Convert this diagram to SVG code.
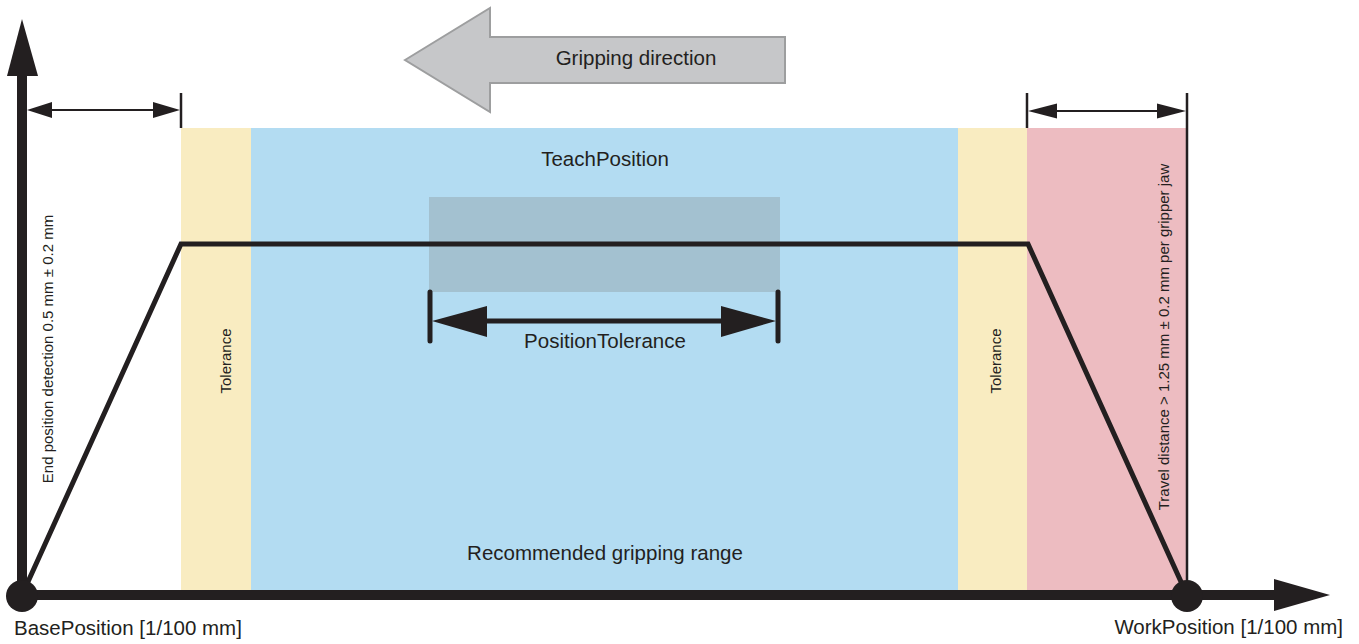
<svg xmlns="http://www.w3.org/2000/svg" width="1359" height="644" viewBox="0 0 1359 644">
  <style>
    .t { font-family: "Liberation Sans", Arial, sans-serif; fill: #231f20; }
    .big { font-size: 20.5px; }
    .small { font-size: 15px; }
    .ink { fill: #231f20; }
    .line { stroke: #231f20; fill: none; }
  </style>
  <rect width="1359" height="644" fill="#ffffff"/>

  <g id="zones">
    <rect id="tolerance-left" x="181" y="128" width="70" height="464" fill="#f9ecc1"/>
    <rect id="recommended-range" x="251" y="128" width="707" height="464" fill="#b3dcf2"/>
    <rect id="tolerance-right" x="958" y="128" width="69" height="464" fill="#f9ecc1"/>
    <rect id="travel-zone" x="1027" y="128" width="160" height="464" fill="#edbcc1"/>
    <rect id="teach-window" x="429" y="197" width="351" height="95" fill="#a3c1d0"/>
  </g>

  <g id="labels">
    <text class="t big" x="605" y="166" text-anchor="middle">TeachPosition</text>
    <text class="t big" x="605" y="560" text-anchor="middle">Recommended gripping range</text>
    <text class="t big" x="605" y="348" text-anchor="middle">PositionTolerance</text>
    <text class="t small" transform="translate(231,361) rotate(-90)" text-anchor="middle">Tolerance</text>
    <text class="t small" transform="translate(1001,361) rotate(-90)" text-anchor="middle">Tolerance</text>
    <text class="t small" transform="translate(53,349) rotate(-90)" text-anchor="middle">End position detection 0.5 mm ± 0.2 mm</text>
    <text class="t small" transform="translate(1169,337) rotate(-90)" text-anchor="middle">Travel distance &gt; 1.25 mm ± 0.2 mm per gripper jaw</text>
    <text class="t big" x="14" y="635">BasePosition [1/100 mm]</text>
    <text class="t big" x="1343" y="634" text-anchor="end">WorkPosition [1/100 mm]</text>
  </g>

  <g id="gripping-direction">
    <polygon points="405,60 490,8 490,37 785,37 785,83 490,83 490,112" fill="#c6c7c9" stroke="#9d9e9f" stroke-width="2"/>
    <text class="t big" x="636" y="65" text-anchor="middle">Gripping direction</text>
  </g>

  <g id="connectors">
    <!-- gripper travel profile -->
    <polyline class="line" points="22,595 181,244 1028,244 1187,595" stroke-width="5" stroke-linejoin="miter"/>

    <!-- position tolerance dimension -->
    <line class="line" x1="485" y1="321" x2="724" y2="321" stroke-width="5"/>
    <line class="line" x1="430" y1="292" x2="430" y2="341" stroke-width="5" stroke-linecap="round"/>
    <line class="line" x1="778" y1="292" x2="778" y2="341" stroke-width="5" stroke-linecap="round"/>
    <polygon class="ink" points="432,321 487,306 487,337"/>
    <polygon class="ink" points="776,321 721,306 721,337"/>

    <!-- left dimension: end position detection -->
    <line class="line" x1="50" y1="110" x2="155" y2="110" stroke-width="2"/>
    <line class="line" x1="181" y1="93" x2="181" y2="128" stroke-width="2.5"/>
    <polygon class="ink" points="27,110 52,102 52,118"/>
    <polygon class="ink" points="180,110 153,102 153,118"/>

    <!-- right dimension: travel distance -->
    <line class="line" x1="1055" y1="111" x2="1159" y2="111" stroke-width="2"/>
    <line class="line" x1="1027" y1="93" x2="1027" y2="128" stroke-width="2.5"/>
    <line class="line" x1="1187" y1="93" x2="1187" y2="592" stroke-width="2.5"/>
    <polygon class="ink" points="1028,111 1057,103.5 1057,118.5"/>
    <polygon class="ink" points="1186,111 1157,103.5 1157,118.5"/>

    <!-- axes -->
    <line class="line" x1="22" y1="70" x2="22" y2="596" stroke-width="10"/>
    <polygon class="ink" points="22,19 38,76 7,76"/>
    <line class="line" x1="22" y1="595" x2="1280" y2="595" stroke-width="10"/>
    <polygon class="ink" points="1330,595 1274,579 1274,611"/>
  </g>

  <g id="base-position">
    <circle class="ink" cx="22" cy="596" r="16"/>
  </g>
  <g id="work-position">
    <circle class="ink" cx="1187" cy="596" r="16"/>
  </g>
</svg>
